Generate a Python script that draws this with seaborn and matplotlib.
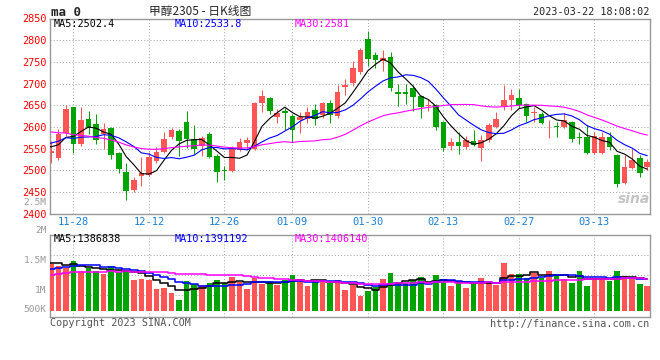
import matplotlib
matplotlib.use("Agg")
import matplotlib.pyplot as plt
import numpy as np
import pandas as pd
import seaborn as sns

# trading calendar of the window (DCE methanol 2305, daily)
start_date = "2022-11-23"
end_date = "2023-03-22"
holidays = ["2023-01-02", "2023-01-23", "2023-01-24", "2023-01-25", "2023-01-26", "2023-01-27"]
tick_dates = ["11-28", "12-12", "12-26", "01-09", "01-30", "02-13", "02-27", "03-13"]

open_ = [2541, 2528, 2585, 2646, 2560, 2618, 2607, 2583, 2597, 2541,
         2497, 2455, 2486, 2490, 2521, 2542, 2576, 2591, 2612, 2572,
         2555, 2583, 2534, 2501, 2499, 2548, 2564, 2549, 2656, 2667,
         2623, 2637, 2625, 2617, 2619, 2640, 2627, 2655, 2625, 2692,
         2701, 2727, 2803, 2766, 2752, 2762, 2681, 2680, 2689, 2672,
         2649, 2651, 2612, 2555, 2566, 2554, 2568, 2552, 2570, 2601,
         2649, 2662, 2666, 2652, 2632, 2629, 2608, 2603, 2601, 2612,
         2576, 2577, 2539, 2540, 2577, 2535, 2471, 2505, 2529, 2508]
high = [2568, 2595, 2651, 2647, 2645, 2636, 2630, 2608, 2600, 2543,
        2517, 2484, 2530, 2542, 2553, 2588, 2597, 2595, 2636, 2605,
        2580, 2588, 2537, 2510, 2555, 2575, 2576, 2658, 2685, 2668,
        2642, 2643, 2630, 2635, 2646, 2654, 2657, 2662, 2696, 2711,
        2752, 2782, 2821, 2773, 2777, 2773, 2698, 2699, 2697, 2674,
        2664, 2652, 2613, 2575, 2588, 2580, 2594, 2582, 2608, 2635,
        2697, 2688, 2688, 2656, 2646, 2635, 2617, 2612, 2631, 2614,
        2588, 2605, 2588, 2588, 2588, 2538, 2535, 2550, 2535, 2525]
low = [2517, 2523, 2580, 2541, 2556, 2583, 2560, 2550, 2525, 2494,
       2431, 2451, 2465, 2486, 2516, 2540, 2572, 2532, 2552, 2537,
       2532, 2528, 2473, 2477, 2496, 2545, 2546, 2546, 2635, 2629,
       2608, 2593, 2565, 2585, 2610, 2604, 2620, 2608, 2620, 2674,
       2695, 2722, 2740, 2737, 2728, 2684, 2648, 2652, 2636, 2620,
       2636, 2593, 2545, 2547, 2537, 2549, 2556, 2521, 2566, 2598,
       2638, 2640, 2643, 2612, 2612, 2606, 2575, 2577, 2598, 2565,
       2560, 2538, 2537, 2538, 2546, 2461, 2468, 2503, 2485, 2500]
close = [2545, 2584, 2641, 2560, 2617, 2597, 2571, 2596, 2535, 2503,
         2452, 2478, 2494, 2530, 2542, 2573, 2592, 2567, 2572, 2549,
         2575, 2531, 2495, 2498, 2549, 2566, 2569, 2655, 2671, 2637,
         2633, 2632, 2593, 2623, 2635, 2618, 2655, 2627, 2681, 2696,
         2737, 2778, 2756, 2754, 2758, 2690, 2676, 2676, 2668, 2645,
         2651, 2600, 2552, 2565, 2555, 2570, 2559, 2569, 2605, 2619,
         2661, 2674, 2651, 2626, 2634, 2609, 2610, 2601, 2615, 2573,
         2574, 2540, 2579, 2577, 2554, 2469, 2508, 2523, 2494, 2519]
volume = [1812000, 1765000, 1699000, 1905000, 1624000, 1699000, 1624000, 1540000, 1765000, 1578000,
          1634000, 1372000, 1390000, 1372000, 1110000, 1147000, 997000, 810000, 1344000, 1250000,
          1222000, 1278000, 1362000, 1278000, 1447000, 1297000, 1119000, 1419000, 1259000, 1344000,
          1222000, 1353000, 1503000, 1400000, 1203000, 1325000, 1353000, 1269000, 1353000, 1091000,
          1231000, 922000, 1063000, 1156000, 1400000, 1559000, 1278000, 1278000, 1353000, 1447000,
          1139000, 1503000, 1400000, 1203000, 1278000, 1139000, 1306000, 1419000, 1306000, 1213000,
          1848000, 1531000, 1531000, 1419000, 1559000, 1419000, 1615000, 1503000, 1390000, 1278000,
          1620000, 1200000, 1420000, 1420000, 1330000, 1610000, 1470000, 1400000, 1260000, 1190000]

# sessions before the window: only used to seed the moving averages
lead_close = [2640, 2660, 2675, 2668, 2650, 2662, 2648, 2655, 2650, 2648,
              2620, 2600, 2575, 2550, 2530, 2520, 2515, 2525, 2515, 2522,
              2540, 2560, 2575, 2590, 2591, 2560, 2555, 2550, 2560]
lead_volume = [1050000, 1120000, 1130000, 1480000, 1620000, 1500000, 1580000, 1550000, 1600000, 1520000,
               1550000, 1400000, 1480000, 1360000, 1520000, 1440000, 1380000, 1500000, 1420000, 1450000,
               1450000, 1600000, 1480000, 1550000, 1520000, 1780000, 1920000, 1860000, 1830000]

price_ticks = list(range(2400, 2851, 50))
ma_windows = [5, 10, 30]
price_ma_text = ["MA5:2502.4", "MA10:2533.8", "MA30:2581"]
volume_ma_text = ["MA5:1386838", "MA10:1391192", "MA30:1406140"]
volume_labels = ["2.5M", "2M", "1.5M", "1M", "500K"]

RED = "#ff5555"
GREEN = "#00a400"
MA_COLORS = ["black", "#0000ff", "#ff00ff"]
GRID = dict(color="#aaaaaa", linestyle=(0, (1, 2)), linewidth=0.75)
MONO = "DejaVu Sans Mono"
W, H = 660, 360


def px(x, y):
    return x / W, 1 - y / H


def build_frame():
    days = pd.bdate_range(start_date, end_date)
    days = days[~days.isin(pd.to_datetime(holidays))]
    df = pd.DataFrame({"date": days, "open": open_, "high": high, "low": low,
                       "close": close, "volume": volume})
    df["x"] = np.arange(len(df))
    df["up"] = df["close"] >= df["open"]
    return df


def moving_averages(lead, values):
    full = pd.Series(list(lead) + list(values), dtype=float)
    x = np.arange(-len(lead), len(values))
    return x, [full.rolling(n).mean().to_numpy() for n in ma_windows]


def style_panel(ax):
    for side in ax.spines.values():
        side.set_color("#999999")
        side.set_linewidth(1.0)
    ax.tick_params(length=0)
    ax.set_xlim(-0.1, 79.36)


def draw_price(ax, df):
    colors = np.where(df["up"], RED, GREEN)
    ax.vlines(df["x"], df["low"], df["high"], colors=colors, linewidth=0.75, zorder=3)
    bottom = np.minimum(df["open"], df["close"])
    height = np.maximum((df["close"] - df["open"]).abs(), 2.0)
    ax.bar(df["x"], height, bottom=bottom, width=0.74, color=colors, linewidth=0, zorder=4)

    x, mas = moving_averages(lead_close, df["close"])
    for ma, c in zip(mas, MA_COLORS):
        sns.lineplot(x=x, y=ma, ax=ax, color=c, linewidth=0.8, zorder=5, legend=False)

    style_panel(ax)
    ax.set_ylim(2400, 2850)
    ax.set_yticks(price_ticks)
    ax.set_yticklabels([str(t) for t in price_ticks], color="#ff0000", fontsize=7.3, family=MONO)
    ax.tick_params(axis="y", pad=2.5)
    ax.set_xlabel("")
    ax.set_ylabel("")
    ax.grid(True, **GRID)


def draw_volume(ax, df):
    colors = np.where(df["up"], RED, GREEN)
    base = 500000
    ax.bar(df["x"], df["volume"] - base, bottom=base, width=0.74, color=colors,
           linewidth=0, zorder=3)

    x, mas = moving_averages(lead_volume, df["volume"])
    for ma, c in zip(mas, MA_COLORS):
        sns.lineplot(x=x, y=ma, ax=ax, color=c, linewidth=1.1, zorder=5,
                     legend=False, drawstyle="steps-mid")

    style_panel(ax)
    ax.set_ylim(314600, 2634800)
    ax.set_yticks([927000, 1488800, 2050600])
    ax.set_yticklabels([])
    ax.set_xlabel("")
    ax.set_ylabel("")
    ax.grid(True, **GRID)
    label_y = [3530000, 2739000, 1924000, 1081000, 520000]
    for lab, yv in zip(volume_labels, label_y):
        ax.text(-0.006, yv, lab, transform=ax.get_yaxis_transform(), ha="right",
                va="center", color="#999999", fontsize=6.8, family=MONO, clip_on=False)


def main():
    sns.set_theme(style="white")
    plt.rcParams["font.family"] = [MONO, "Noto Sans CJK SC"]

    df = build_frame()
    labels = df["date"].dt.strftime("%m-%d")
    tick_pos = [int(df.loc[labels == d, "x"].iloc[0]) for d in tick_dates]

    fig = plt.figure(figsize=(6.6, 3.6), dpi=100)
    fig.patch.set_facecolor("white")
    ax_p = fig.add_axes([50 / W, 1 - 213.7 / H, 600 / W, 195.2 / H])
    ax_v = fig.add_axes([50 / W, 1 - 317.3 / H, 600 / W, 82.6 / H])

    draw_price(ax_p, df)
    draw_volume(ax_v, df)

    ax_p.set_xticks(tick_pos)
    ax_p.set_xticklabels(tick_dates, color="#1a7fd8", fontsize=7.5, family=MONO)
    ax_p.tick_params(axis="x", pad=2.5)
    ax_v.set_xticks(tick_pos)
    ax_v.set_xticklabels([])

    # header
    fig.text(*px(51, 12), "ma 0", fontsize=9, fontweight="bold", va="center", family=MONO)
    fig.text(*px(200, 11), "甲醇2305 - 日K线图", fontsize=8.5, ha="center", va="center",
             family=["Noto Sans CJK SC", "DejaVu Sans"])
    fig.text(*px(649, 12), "2023-03-22 18:08:02", fontsize=7.3, ha="right", va="center",
             family=MONO)

    for txt, c, x0 in zip(price_ma_text, MA_COLORS, [54, 175, 295]):
        fig.text(*px(x0, 24), txt, color=c, fontsize=7.3, va="center", family=MONO)
    for txt, c, x0 in zip(volume_ma_text, MA_COLORS, [54, 175, 295]):
        fig.text(*px(x0, 238.5), txt, color=c, fontsize=7.3, va="center", family=MONO)

    fig.text(*px(634, 199), "sina", fontsize=10, fontweight="bold", style="italic",
             color="#c4c4c4", ha="center", va="center", family="DejaVu Sans")

    fig.text(*px(50, 323), "Copyright 2023 SINA.COM", fontsize=7.3, color="#555555",
             va="center", family=MONO)
    fig.text(*px(649, 324), "http://finance.sina.com.cn", fontsize=7.3, color="#555555",
             ha="right", va="center", family=MONO)

    fig.savefig("out.png", dpi=100, facecolor="white")
    plt.close(fig)


if __name__ == "__main__":
    main()
